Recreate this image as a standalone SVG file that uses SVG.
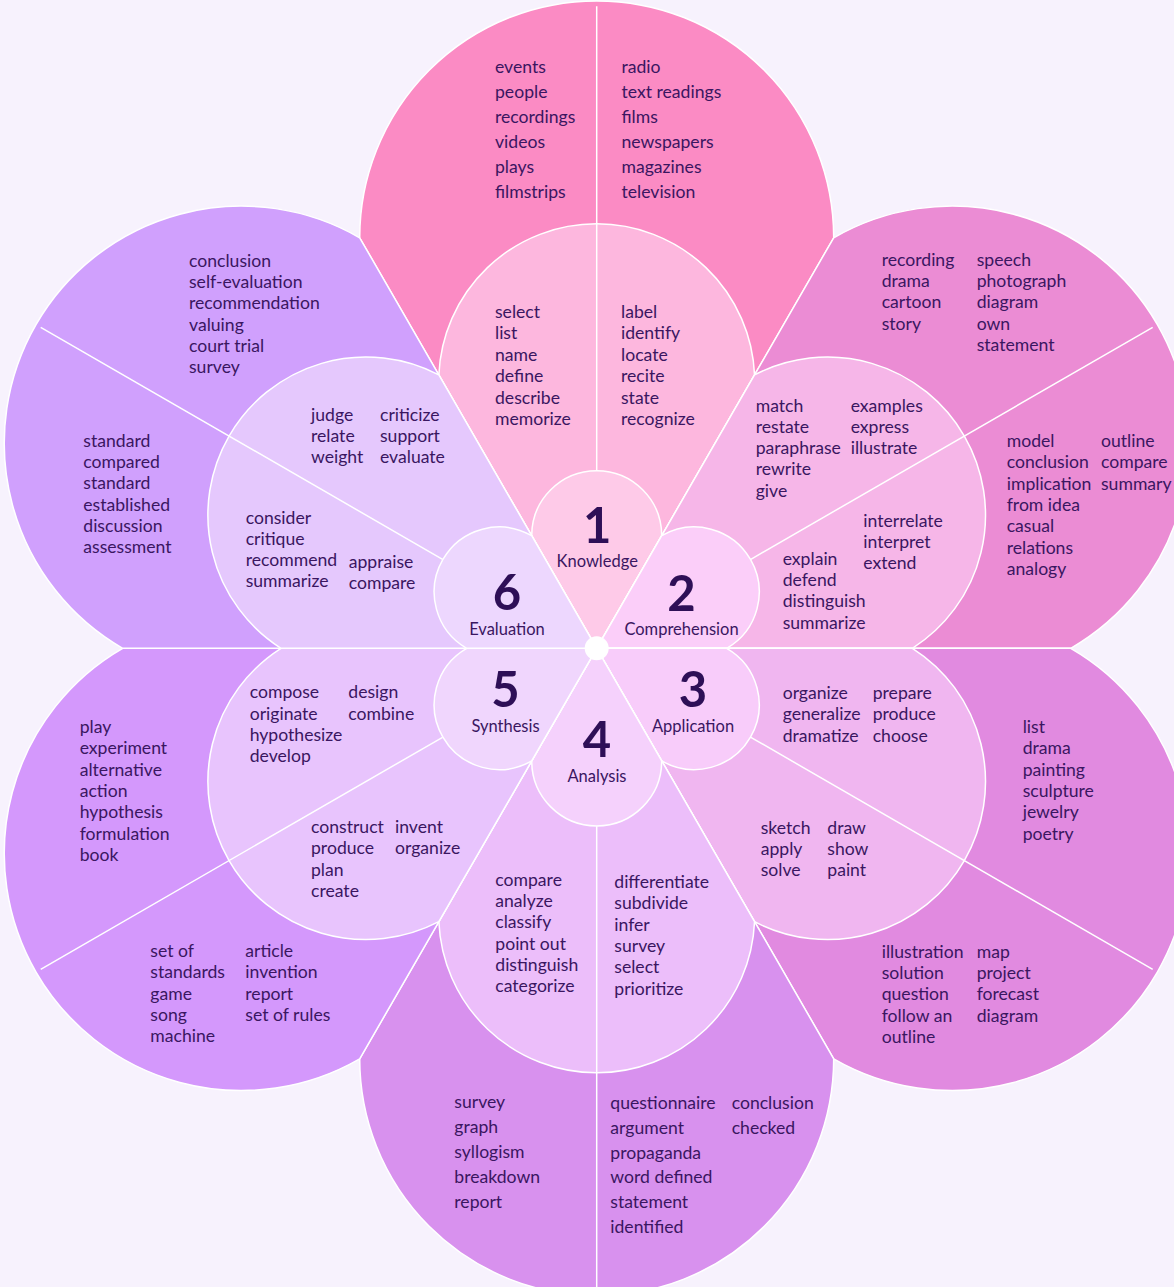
<svg xmlns="http://www.w3.org/2000/svg" xmlns:xlink="http://www.w3.org/1999/xlink" width="1174" height="1287" viewBox="0 0 1174 1287">
  <style>
    .ring { stroke: #ffffff; stroke-width: 1.5; stroke-linejoin: round; }
    .div { stroke: #ffffff; stroke-width: 1.5; }
    .t { font-family: Lato, "Noto Sans", "Liberation Sans", sans-serif; font-size: 17.6px; fill: #3a1661; }
    .num { font-family: Lato, "Noto Sans", "Liberation Sans", sans-serif; font-size: 49px; font-weight: 700; fill: #2e0f57; text-anchor: middle; }
    .lbl { font-family: Lato, "Noto Sans", "Liberation Sans", sans-serif; font-size: 16.5px; fill: #3a1661; text-anchor: middle; }
  </style>
  <defs>
    <!-- petal tiers drawn pointing up from the flower centre; each is a 60° wedge capped by an arc -->
    <path id="outer" d="M0,0 L-237,-410.5 A237,237 0 0 1 237,-410.5 Z"/>
    <path id="middle" d="M0,0 L-157.85,-273.4 A158,158 0 0 1 157.85,-273.4 Z"/>
    <path id="inner" d="M0,0 L-65,-112.6 A65,65 0 1 1 65,-112.6 Z"/>
  </defs>

  <rect width="1174" height="1287" fill="#f7f2fd"/>

  <!-- 1 Knowledge -->
  <g id="knowledge">
    <g transform="translate(596.7 648.3) rotate(0)">
      <use xlink:href="#outer" class="ring" fill="#fb8bc4"/>
      <use xlink:href="#middle" class="ring" fill="#fdb7de"/>
      <use xlink:href="#inner" class="ring" fill="#fecae8"/>
    </g>
    <text class="t"><tspan x="495" y="73">events</tspan><tspan x="495" dy="25">people</tspan><tspan x="495" dy="25">recordings</tspan><tspan x="495" dy="25">videos</tspan><tspan x="495" dy="25">plays</tspan><tspan x="495" dy="25">filmstrips</tspan></text>
    <text class="t"><tspan x="621.5" y="73">radio</tspan><tspan x="621.5" dy="25">text readings</tspan><tspan x="621.5" dy="25">films</tspan><tspan x="621.5" dy="25">newspapers</tspan><tspan x="621.5" dy="25">magazines</tspan><tspan x="621.5" dy="25">television</tspan></text>
    <text class="t"><tspan x="495" y="318">select</tspan><tspan x="495" dy="21.4">list</tspan><tspan x="495" dy="21.4">name</tspan><tspan x="495" dy="21.4">define</tspan><tspan x="495" dy="21.4">describe</tspan><tspan x="495" dy="21.4">memorize</tspan></text>
    <text class="t"><tspan x="621" y="318">label</tspan><tspan x="621" dy="21.4">identify</tspan><tspan x="621" dy="21.4">locate</tspan><tspan x="621" dy="21.4">recite</tspan><tspan x="621" dy="21.4">state</tspan><tspan x="621" dy="21.4">recognize</tspan></text>
    <text class="num" x="597.2" y="543.3">1</text>
    <text class="lbl" x="597.2" y="566.5">Knowledge</text>
  </g>

  <!-- 2 Comprehension -->
  <g id="comprehension">
    <g transform="translate(596.7 648.3) rotate(60)">
      <use xlink:href="#outer" class="ring" fill="#eb8cd4"/>
      <use xlink:href="#middle" class="ring" fill="#f6b6e8"/>
      <use xlink:href="#inner" class="ring" fill="#fbcef9"/>
    </g>
    <text class="t"><tspan x="881.7" y="265.7">recording</tspan><tspan x="881.7" dy="21.3">drama</tspan><tspan x="881.7" dy="21.3">cartoon</tspan><tspan x="881.7" dy="21.3">story</tspan></text>
    <text class="t"><tspan x="976.7" y="265.7">speech</tspan><tspan x="976.7" dy="21.3">photograph</tspan><tspan x="976.7" dy="21.3">diagram</tspan><tspan x="976.7" dy="21.3">own</tspan><tspan x="976.7" dy="21.3">statement</tspan></text>
    <text class="t"><tspan x="1006.7" y="446.7">model</tspan><tspan x="1006.7" dy="21.4">conclusion</tspan><tspan x="1006.7" dy="21.4">implication</tspan><tspan x="1006.7" dy="21.4">from idea</tspan><tspan x="1006.7" dy="21.4">casual</tspan><tspan x="1006.7" dy="21.4">relations</tspan><tspan x="1006.7" dy="21.4">analogy</tspan></text>
    <text class="t"><tspan x="1101" y="446.7">outline</tspan><tspan x="1101" dy="21.4">compare</tspan><tspan x="1101" dy="21.4">summary</tspan></text>
    <text class="t"><tspan x="755.7" y="411.7">match</tspan><tspan x="755.7" dy="21.2">restate</tspan><tspan x="755.7" dy="21.2">paraphrase</tspan><tspan x="755.7" dy="21.2">rewrite</tspan><tspan x="755.7" dy="21.2">give</tspan></text>
    <text class="t"><tspan x="850.7" y="411.7">examples</tspan><tspan x="850.7" dy="21.2">express</tspan><tspan x="850.7" dy="21.2">illustrate</tspan></text>
    <text class="t"><tspan x="863.3" y="526.5">interrelate</tspan><tspan x="863.3" dy="21.3">interpret</tspan><tspan x="863.3" dy="21.3">extend</tspan></text>
    <text class="t"><tspan x="782.7" y="564.7">explain</tspan><tspan x="782.7" dy="21.3">defend</tspan><tspan x="782.7" dy="21.3">distinguish</tspan><tspan x="782.7" dy="21.3">summarize</tspan></text>
    <text class="num" x="681.5" y="610.5">2</text>
    <text class="lbl" x="681.5" y="635">Comprehension</text>
  </g>

  <!-- 3 Application -->
  <g id="application">
    <g transform="translate(596.7 648.3) rotate(120)">
      <use xlink:href="#outer" class="ring" fill="#e18ae0"/>
      <use xlink:href="#middle" class="ring" fill="#f0b6f0"/>
      <use xlink:href="#inner" class="ring" fill="#f8ccfa"/>
    </g>
    <text class="t"><tspan x="782.7" y="699">organize</tspan><tspan x="782.7" dy="21.3">generalize</tspan><tspan x="782.7" dy="21.3">dramatize</tspan></text>
    <text class="t"><tspan x="872.7" y="699">prepare</tspan><tspan x="872.7" dy="21.3">produce</tspan><tspan x="872.7" dy="21.3">choose</tspan></text>
    <text class="t"><tspan x="760.7" y="833.5">sketch</tspan><tspan x="760.7" dy="21.3">apply</tspan><tspan x="760.7" dy="21.3">solve</tspan></text>
    <text class="t"><tspan x="827.3" y="833.5">draw</tspan><tspan x="827.3" dy="21.3">show</tspan><tspan x="827.3" dy="21.3">paint</tspan></text>
    <text class="t"><tspan x="1022.7" y="733">list</tspan><tspan x="1022.7" dy="21.3">drama</tspan><tspan x="1022.7" dy="21.3">painting</tspan><tspan x="1022.7" dy="21.3">sculpture</tspan><tspan x="1022.7" dy="21.3">jewelry</tspan><tspan x="1022.7" dy="21.3">poetry</tspan></text>
    <text class="t"><tspan x="881.7" y="957.7">illustration</tspan><tspan x="881.7" dy="21.3">solution</tspan><tspan x="881.7" dy="21.3">question</tspan><tspan x="881.7" dy="21.3">follow an</tspan><tspan x="881.7" dy="21.3">outline</tspan></text>
    <text class="t"><tspan x="976.7" y="957.7">map</tspan><tspan x="976.7" dy="21.3">project</tspan><tspan x="976.7" dy="21.3">forecast</tspan><tspan x="976.7" dy="21.3">diagram</tspan></text>
    <text class="num" x="693" y="706.7">3</text>
    <text class="lbl" x="693" y="731.7">Application</text>
  </g>

  <!-- 4 Analysis -->
  <g id="analysis">
    <g transform="translate(596.7 648.3) rotate(180)">
      <use xlink:href="#outer" class="ring" fill="#d891ee"/>
      <use xlink:href="#middle" class="ring" fill="#ecbefa"/>
      <use xlink:href="#inner" class="ring" fill="#f5d1fc"/>
    </g>
    <text class="t"><tspan x="495.3" y="885.7">compare</tspan><tspan x="495.3" dy="21.3">analyze</tspan><tspan x="495.3" dy="21.3">classify</tspan><tspan x="495.3" dy="21.3">point out</tspan><tspan x="495.3" dy="21.3">distinguish</tspan><tspan x="495.3" dy="21.3">categorize</tspan></text>
    <text class="t"><tspan x="614.3" y="888">differentiate</tspan><tspan x="614.3" dy="21.3">subdivide</tspan><tspan x="614.3" dy="21.3">infer</tspan><tspan x="614.3" dy="21.3">survey</tspan><tspan x="614.3" dy="21.3">select</tspan><tspan x="614.3" dy="21.3">prioritize</tspan></text>
    <text class="t"><tspan x="454.3" y="1107.7">survey</tspan><tspan x="454.3" dy="25">graph</tspan><tspan x="454.3" dy="25">syllogism</tspan><tspan x="454.3" dy="25">breakdown</tspan><tspan x="454.3" dy="25">report</tspan></text>
    <text class="t"><tspan x="610.3" y="1109">questionnaire</tspan><tspan x="610.3" dy="24.8">argument</tspan><tspan x="610.3" dy="24.8">propaganda</tspan><tspan x="610.3" dy="24.8">word defined</tspan><tspan x="610.3" dy="24.8">statement</tspan><tspan x="610.3" dy="24.8">identified</tspan></text>
    <text class="t"><tspan x="731.7" y="1109">conclusion</tspan><tspan x="731.7" dy="24.8">checked</tspan></text>
    <text class="num" x="597" y="756.7">4</text>
    <text class="lbl" x="597" y="781.7">Analysis</text>
  </g>

  <!-- 5 Synthesis -->
  <g id="synthesis">
    <g transform="translate(596.7 648.3) rotate(240)">
      <use xlink:href="#outer" class="ring" fill="#d498fc"/>
      <use xlink:href="#middle" class="ring" fill="#e8c4fd"/>
      <use xlink:href="#inner" class="ring" fill="#f0d6fd"/>
    </g>
    <text class="t"><tspan x="79.7" y="733">play</tspan><tspan x="79.7" dy="21.3">experiment</tspan><tspan x="79.7" dy="21.3">alternative</tspan><tspan x="79.7" dy="21.3">action</tspan><tspan x="79.7" dy="21.3">hypothesis</tspan><tspan x="79.7" dy="21.3">formulation</tspan><tspan x="79.7" dy="21.3">book</tspan></text>
    <text class="t"><tspan x="150.3" y="957">set of</tspan><tspan x="150.3" dy="21.3">standards</tspan><tspan x="150.3" dy="21.3">game</tspan><tspan x="150.3" dy="21.3">song</tspan><tspan x="150.3" dy="21.3">machine</tspan></text>
    <text class="t"><tspan x="245.3" y="957">article</tspan><tspan x="245.3" dy="21.3">invention</tspan><tspan x="245.3" dy="21.3">report</tspan><tspan x="245.3" dy="21.3">set of rules</tspan></text>
    <text class="t"><tspan x="249.7" y="698.3">compose</tspan><tspan x="249.7" dy="21.3">originate</tspan><tspan x="249.7" dy="21.3">hypothesize</tspan><tspan x="249.7" dy="21.3">develop</tspan></text>
    <text class="t"><tspan x="348.3" y="698.3">design</tspan><tspan x="348.3" dy="21.3">combine</tspan></text>
    <text class="t"><tspan x="311" y="833">construct</tspan><tspan x="311" dy="21.3">produce</tspan><tspan x="311" dy="21.3">plan</tspan><tspan x="311" dy="21.3">create</tspan></text>
    <text class="t"><tspan x="395" y="833">invent</tspan><tspan x="395" dy="21.3">organize</tspan></text>
    <text class="num" x="505.5" y="706.7">5</text>
    <text class="lbl" x="505.5" y="731.7">Synthesis</text>
  </g>

  <!-- 6 Evaluation -->
  <g id="evaluation">
    <g transform="translate(596.7 648.3) rotate(300)">
      <use xlink:href="#outer" class="ring" fill="#d0a0fd"/>
      <use xlink:href="#middle" class="ring" fill="#e5c8fd"/>
      <use xlink:href="#inner" class="ring" fill="#edd7fe"/>
    </g>
    <text class="t"><tspan x="189" y="266.7">conclusion</tspan><tspan x="189" dy="21.3">self-evaluation</tspan><tspan x="189" dy="21.3">recommendation</tspan><tspan x="189" dy="21.3">valuing</tspan><tspan x="189" dy="21.3">court trial</tspan><tspan x="189" dy="21.3">survey</tspan></text>
    <text class="t"><tspan x="83.3" y="446.7">standard</tspan><tspan x="83.3" dy="21.3">compared</tspan><tspan x="83.3" dy="21.3">standard</tspan><tspan x="83.3" dy="21.3">established</tspan><tspan x="83.3" dy="21.3">discussion</tspan><tspan x="83.3" dy="21.3">assessment</tspan></text>
    <text class="t"><tspan x="311" y="420.5">judge</tspan><tspan x="311" dy="21.3">relate</tspan><tspan x="311" dy="21.3">weight</tspan></text>
    <text class="t"><tspan x="380" y="420.5">criticize</tspan><tspan x="380" dy="21.3">support</tspan><tspan x="380" dy="21.3">evaluate</tspan></text>
    <text class="t"><tspan x="245.7" y="523.5">consider</tspan><tspan x="245.7" dy="21.3">critique</tspan><tspan x="245.7" dy="21.3">recommend</tspan><tspan x="245.7" dy="21.3">summarize</tspan></text>
    <text class="t"><tspan x="348.7" y="567.7">appraise</tspan><tspan x="348.7" dy="21.3">compare</tspan></text>
    <text class="num" x="507" y="610">6</text>
    <text class="lbl" x="507" y="635">Evaluation</text>
  </g>

  <!-- dividers splitting each petal in half, from the numbered disc to the rim -->
  <g id="dividers" transform="translate(596.7 648.3)">
    <line class="div" x1="0" y1="-178" x2="0" y2="-642" transform="rotate(0)"/>
    <line class="div" x1="0" y1="-178" x2="0" y2="-642" transform="rotate(60)"/>
    <line class="div" x1="0" y1="-178" x2="0" y2="-642" transform="rotate(120)"/>
    <line class="div" x1="0" y1="-178" x2="0" y2="-642" transform="rotate(180)"/>
    <line class="div" x1="0" y1="-178" x2="0" y2="-642" transform="rotate(240)"/>
    <line class="div" x1="0" y1="-178" x2="0" y2="-642" transform="rotate(300)"/>
  </g>

  <circle id="hub" cx="596.7" cy="648.3" r="12" fill="#ffffff"/>
</svg>
